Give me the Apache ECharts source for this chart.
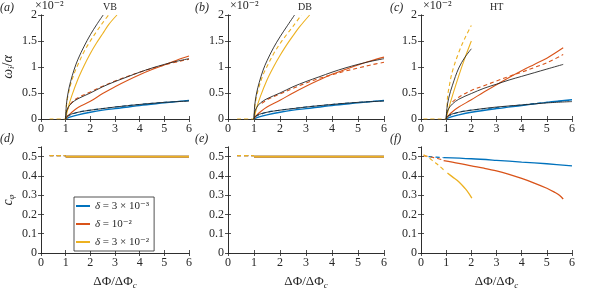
<!DOCTYPE html>
<html><head><meta charset="utf-8">
<script src="https://cdn.jsdelivr.net/npm/echarts@6/dist/echarts.min.js"></script>
<style>html,body{margin:0;padding:0;background:#fff}#c{width:592px;height:291px}</style>
</head><body><div id="c"></div>
<script>
// ---- data (top panels in units of 1e-2) ----
const xTicks = [0,1,2,3,4,5,6];
const topYTicks = [0,0.5,1,1.5,2];
const botYTicks = [0,0.1,0.2,0.3,0.4,0.5];
const legendNames = ['δ = 3 × 10⁻³','δ = 10⁻²','δ = 3 × 10⁻²'];

// (a) VB
const aBlackHigh = [[1,0],[1.03,0.28],[1.1,0.51],[1.2,0.72],[1.35,0.96],[1.5,1.15],[1.75,1.4],[2,1.62],[2.25,1.81],[2.52,2.0]];
const aYellowDash = [[0.35,0],[1,0],[1.03,0.25],[1.1,0.46],[1.2,0.66],[1.35,0.88],[1.5,1.05],[1.75,1.3],[2,1.5],[2.25,1.68],[2.5,1.85],[2.74,2.0]];
const aYellowSolid = [[1,0],[1.1,0.22],[1.25,0.45],[1.5,0.77],[1.75,1.03],[2,1.26],[2.25,1.46],[2.5,1.64],[2.75,1.82],[3.08,2.0]];
const aBlackMid = [[1,0],[1.02,0.12],[1.1,0.22],[1.25,0.31],[1.5,0.39],[2,0.5],[2.5,0.62],[3,0.72],[3.5,0.81],[4,0.9],[4.5,0.98],[5,1.05],[5.5,1.11],[6,1.16]];
const aRedDash = [[1.05,0.16],[1.25,0.32],[1.5,0.41],[2,0.52],[2.5,0.63],[3,0.73],[4,0.9],[5,1.04],[6,1.15]];
const aRedSolid = [[1,0],[1.1,0.06],[1.25,0.13],[1.5,0.22],[2,0.34],[2.5,0.49],[3,0.62],[3.5,0.74],[4,0.85],[4.5,0.95],[5,1.04],[5.5,1.13],[6,1.21]];
const aBlackLow = [[1,0],[1.05,0.05],[1.2,0.09],[1.5,0.13],[2,0.17],[2.5,0.2],[3,0.23],[4,0.28],[5,0.32],[6,0.345]];
const aBlueSolid = [[1,0],[1.2,0.04],[1.5,0.08],[2,0.13],[2.5,0.17],[3,0.2],[4,0.26],[5,0.31],[6,0.36]];
const aBlueDash = [[1.05,0.05],[1.5,0.13],[2,0.17],[3,0.23],[4,0.28],[5,0.32],[6,0.35]];

// (b) DB
const bBlackHigh = [[1,0],[1.03,0.27],[1.1,0.5],[1.2,0.7],[1.35,0.94],[1.5,1.12],[1.75,1.37],[2,1.58],[2.25,1.77],[2.56,2.0]];
const bYellowDash = [[0.35,0],[1,0],[1.03,0.24],[1.1,0.44],[1.2,0.63],[1.35,0.85],[1.5,1.01],[1.75,1.25],[2,1.45],[2.25,1.62],[2.5,1.78],[2.82,2.0]];
const bYellowSolid = [[1,0],[1.1,0.21],[1.25,0.44],[1.5,0.75],[1.75,1.0],[2,1.22],[2.25,1.42],[2.5,1.6],[2.75,1.77],[3.14,2.0]];
const bBlackMid = [[1,0],[1.02,0.12],[1.1,0.22],[1.25,0.31],[1.5,0.39],[2,0.5],[2.5,0.62],[3,0.72],[3.5,0.81],[4,0.9],[4.5,0.98],[5,1.05],[5.5,1.11],[6,1.16]];
const bRedDash = [[1.3,0.3],[1.5,0.37],[2,0.48],[2.5,0.59],[3,0.69],[3.5,0.78],[4,0.85],[4.5,0.92],[5,0.98],[5.5,1.04],[6,1.09]];
const bRedSolid = [[1,0],[1.1,0.07],[1.25,0.14],[1.5,0.23],[2,0.36],[2.5,0.5],[3,0.63],[3.5,0.75],[4,0.86],[4.5,0.95],[5,1.04],[5.5,1.12],[6,1.19]];
const bBlackLow = [[1,0],[1.05,0.05],[1.2,0.09],[1.5,0.13],[2,0.17],[2.5,0.2],[3,0.23],[4,0.28],[5,0.32],[6,0.345]];
const bBlueSolid = [[1,0],[1.2,0.04],[1.5,0.08],[2,0.13],[2.5,0.17],[3,0.2],[4,0.26],[5,0.31],[6,0.36]];
const bBlueDash = [[1.05,0.05],[1.5,0.13],[2,0.17],[3,0.23],[4,0.28],[5,0.32],[6,0.35]];

// (c) HT
const cYellowDash = [[0.1,0],[1,0],[1.05,0.4],[1.1,0.57],[1.25,0.92],[1.5,1.28],[1.75,1.56],[2,1.8]];
const cYellowSolid = [[1,0],[1.1,0.2],[1.25,0.45],[1.5,0.83],[1.75,1.18],[2,1.5]];
const cBlackHigh = [[1,0],[1.03,0.2],[1.1,0.4],[1.25,0.65],[1.5,0.98],[1.75,1.19],[2,1.35]];
const cBlackMid = [[1,0],[1.02,0.1],[1.1,0.2],[1.25,0.29],[1.5,0.38],[2,0.49],[2.5,0.59],[3,0.67],[3.5,0.75],[4,0.82],[4.5,0.89],[5,0.96],[5.65,1.05]];
const cRedSolid = [[1,0],[1.1,0.07],[1.25,0.14],[1.5,0.23],[2,0.37],[2.5,0.52],[3,0.66],[3.5,0.8],[4,0.93],[4.5,1.05],[5,1.17],[5.65,1.37]];
const cRedDash = [[1.25,0.33],[1.5,0.42],[2,0.55],[2.5,0.64],[3,0.73],[3.5,0.82],[4,0.9],[4.5,0.99],[5,1.08],[5.65,1.24]];
const cBlackLow = [[1,0],[1.05,0.05],[1.2,0.09],[1.5,0.13],[2,0.17],[3,0.23],[4,0.27],[5,0.31],[6,0.335]];
const cBlueSolid = [[1,0],[1.2,0.04],[1.5,0.08],[2,0.13],[3,0.2],[4,0.26],[5,0.32],[6,0.37]];
const cBlueDash = [[1.05,0.05],[1.5,0.13],[2,0.17],[3,0.22],[4,0.27],[5,0.32],[6,0.36]];

// (d),(e) c_phi
const deDash = [[0.35,0.505],[1,0.505]];
const deSolid = [[1,0.5],[6,0.5]];

// (f) c_phi HT
const fBlueDash = [[0.3,0.5],[0.9,0.495]];
const fBlueSolid = [[0.9,0.495],[2,0.489],[3,0.481],[4,0.472],[5,0.463],[6,0.452]];
const fRedDash = [[0.1,0.505],[0.5,0.495],[0.9,0.482]];
const fRedSolid = [[0.9,0.479],[1.5,0.465],[2,0.452],[2.5,0.44],[3,0.426],[3.5,0.408],[4,0.387],[4.5,0.363],[5,0.336],[5.3,0.316],[5.5,0.3],[5.65,0.28]];
const fYellowDash = [[0.1,0.51],[0.3,0.495],[0.5,0.475],[0.7,0.455],[0.95,0.425]];
const fYellowSolid = [[1.05,0.415],[1.25,0.395],[1.5,0.37],[1.75,0.335],[1.9,0.31],[2.02,0.285]];

// ---- styling/layout ----
const BLUE='#0072BD', RED='#D95319', YEL='#EDB120', BLK='#262626';
const FONT='"Liberation Serif", "DejaVu Serif", serif';
const F = (px,it)=> (it?'italic ':'')+px+'px "Liberation Serif", "DejaVu Serif", serif';
const grids = [
  {left:33,top:15,width:156,height:104},
  {left:228,top:15,width:156,height:104},
  {left:421,top:15,width:151,height:104},
  {left:33,top:147,width:156,height:111},
  {left:228,top:147,width:156,height:111},
  {left:421,top:147,width:151,height:111}
];
const xAxes=[], yAxes=[];
grids.forEach((g,i)=>{
  const top = i<3;
  const ymax = top ? topYTicks[topYTicks.length-1] : 0.55;
  const yint = top ? 0.5 : 0.1;
  const xmax = xTicks[xTicks.length-1];
  const xBase = {gridIndex:i,type:'value',min:xTicks[0],max:xmax,interval:1,splitLine:{show:false}};
  xAxes.push(Object.assign({},xBase,{position:'bottom',
    axisLine:{show:true,lineStyle:{color:BLK,width:0.8}},
    axisTick:{show:true,inside:true,length:3,lineStyle:{color:BLK,width:0.8}},
    axisLabel:{color:BLK,fontFamily:FONT,fontSize:12,margin:4},
    name: top ? '' : '{n|ΔΦ/ΔΦ}{s|c}',
    nameLocation:'middle',nameGap:21,
    nameTextStyle:{rich:{n:{fontFamily:FONT,fontSize:13,color:BLK,lineHeight:16},s:{fontFamily:FONT,fontSize:9,fontStyle:'italic',color:BLK,verticalAlign:'bottom',lineHeight:16}}}
  }));
  xAxes.push(Object.assign({},xBase,{position:'top',
    axisLine:{show:true,lineStyle:{color:BLK,width:0.8}},
    axisTick:{show:true,inside:true,length:3,lineStyle:{color:BLK,width:0.8}},
    axisLabel:{show:false}}));
  const yBase = {gridIndex:i,type:'value',min:0,max:ymax,interval:yint,splitLine:{show:false}};
  let yname='';
  if(i===0) yname='{g|ω}{s|i}{n|/}{g|α}';
  if(i===3) yname='{g|c}{s|φ}';
  yAxes.push(Object.assign({},yBase,{position:'left',
    axisLine:{show:true,lineStyle:{color:BLK,width:0.8}},
    axisTick:{show:true,inside:true,length:3,lineStyle:{color:BLK,width:0.8}},
    axisLabel:{color:BLK,fontFamily:FONT,fontSize:12,margin:4,showMaxLabel: top ? true : false,
      formatter: v => (top ? String(v) : (Math.abs(v-0.55)<1e-9 ? '' : (v===0?'0':v.toFixed(1))))},
    name:yname,nameLocation:'middle',nameGap:25,nameRotate:90,
    nameTextStyle:{rich:{g:{fontFamily:FONT,fontSize:14,fontStyle:'italic',color:BLK,lineHeight:16},
      s:{fontFamily:FONT,fontSize:9,fontStyle:'italic',color:BLK,verticalAlign:'bottom',lineHeight:16},
      n:{fontFamily:FONT,fontSize:14,color:BLK,lineHeight:16}}}
  }));
  yAxes.push(Object.assign({},yBase,{position:'right',
    axisLine:{show:true,lineStyle:{color:BLK,width:0.8}},
    axisTick:{show:true,inside:true,length:3,lineStyle:{color:BLK,width:0.8}},
    axisLabel:{show:false}}));
});

const series=[];
function add(g,data,color,dashed,width,name,z){
  series.push({type:'line',name:name||('s'+series.length),xAxisIndex:2*g,yAxisIndex:2*g,
    data:data,showSymbol:false,symbol:'none',smooth:0.35,silent:true,z:z||2,
    lineStyle:{color:color,width:width||1,type:dashed?[4,3]:'solid'},
    itemStyle:{color:color}});
}
// (a)
add(0,aBlueSolid,BLUE,false,1.3); add(0,aBlueDash,BLUE,true,1.1);
add(0,aBlackLow,BLK,false,0.9,null,3);
add(0,aRedSolid,RED,false,1.1); add(0,aRedDash,RED,true,1.1); add(0,aBlackMid,BLK,false,0.9,null,3);
add(0,aYellowSolid,YEL,false,1.1); add(0,aYellowDash,YEL,true,1.1); add(0,aBlackHigh,BLK,false,0.9,null,3);
// (b)
add(1,bBlueSolid,BLUE,false,1.3); add(1,bBlueDash,BLUE,true,1.1);
add(1,bBlackLow,BLK,false,0.9,null,3);
add(1,bRedSolid,RED,false,1.1); add(1,bRedDash,RED,true,1.1); add(1,bBlackMid,BLK,false,0.9,null,3);
add(1,bYellowSolid,YEL,false,1.1); add(1,bYellowDash,YEL,true,1.1); add(1,bBlackHigh,BLK,false,0.9,null,3);
// (c)
add(2,cBlueSolid,BLUE,false,1.3); add(2,cBlueDash,BLUE,true,1.1);
add(2,cBlackLow,BLK,false,0.9,null,3);
add(2,cRedSolid,RED,false,1.1); add(2,cRedDash,RED,true,1.1); add(2,cBlackMid,BLK,false,0.9,null,3);
add(2,cYellowSolid,YEL,false,1.1); add(2,cYellowDash,YEL,true,1.1); add(2,cBlackHigh,BLK,false,0.9,null,3);
// (d),(e)
[3,4].forEach(g=>{
  add(g,deDash,BLUE,true,1.2); add(g,deDash,RED,true,1.2); add(g,deDash,YEL,true,1.4);
  add(g,deSolid,BLUE,false,1.6,g===3?legendNames[0]:null);
  add(g,deSolid,RED,false,1.6,g===3?legendNames[1]:null);
  add(g,deSolid,YEL,false,1.8,g===3?legendNames[2]:null);
});
// (f)
add(5,fBlueDash,BLUE,true,1.1); add(5,fBlueSolid,BLUE,false,1.3);
add(5,fRedDash,RED,true,1.1); add(5,fRedSolid,RED,false,1.3);
add(5,fYellowDash,YEL,true,1.1); add(5,fYellowSolid,YEL,false,1.3);

const txt=(x,y,t,font)=>({type:'text',left:x,top:y,style:{text:t,fill:BLK,font:font}});
const graphics=[
  txt(0,2,'(a)',F(12,true)), txt(195,2,'(b)',F(12,true)), txt(390,2,'(c)',F(12,true)),
  txt(0,133,'(d)',F(12,true)), txt(195,133,'(e)',F(12,true)), txt(390,133,'(f)',F(12,true)),
  txt(35,0,'×10⁻²',F(12)), txt(230,0,'×10⁻²',F(12)), txt(423,0,'×10⁻²',F(12)),
  txt(103,2,'VB',F(10)), txt(298,2,'DB',F(10)), txt(490,2,'HT',F(10))
];

const chart=echarts.init(document.getElementById('c'),null,{renderer:'canvas'});
chart.setOption({
  animation:false,
  grid:grids.map(g=>Object.assign({show:false},g)),
  xAxis:xAxes, yAxis:yAxes, series:series, graphic:graphics,
  legend:{data:legendNames,orient:'vertical',left:74,top:197,itemWidth:14,itemHeight:2,itemGap:6,
    icon:'rect',
    padding:[3,5,3,2],borderColor:BLK,borderWidth:0.8,backgroundColor:'#fff',selectedMode:false,
    formatter:n=>{const p=n.split('δ');return '{i|δ}'+p[1];},
    textStyle:{fontFamily:FONT,fontSize:11,color:BLK,lineHeight:12,rich:{i:{fontFamily:FONT,fontSize:11,fontStyle:'italic',color:BLK}}}
  }
});
</script></body></html>
